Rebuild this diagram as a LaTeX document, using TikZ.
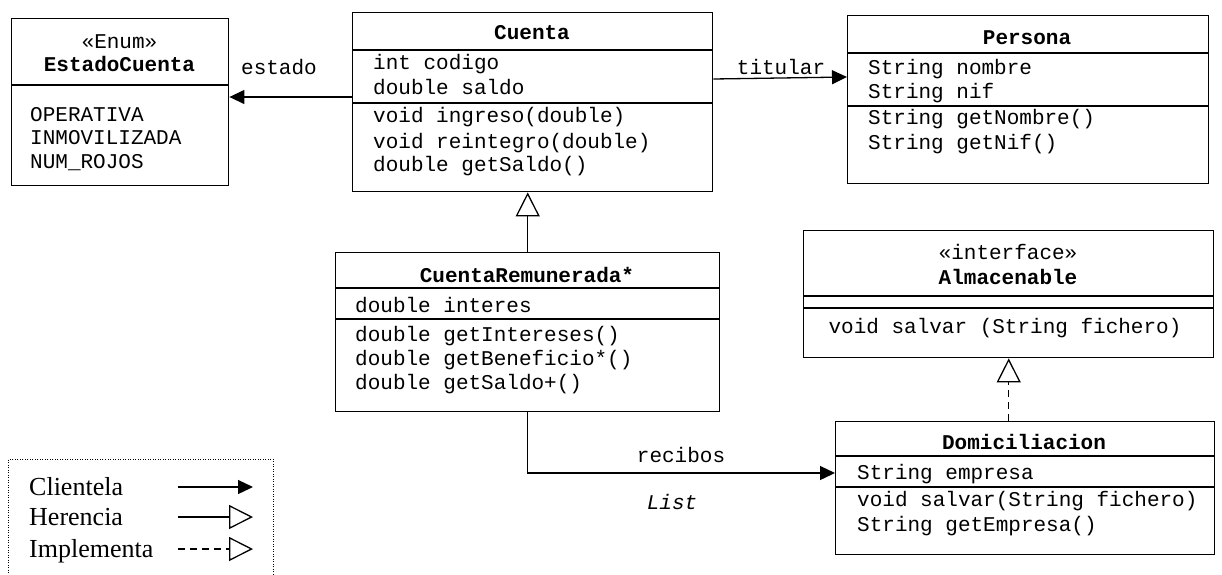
\documentclass[tikz,border=0pt]{standalone}
\usepackage{fontspec}
\setmainfont{Liberation Serif}
\setmonofont{Liberation Mono}
\usetikzlibrary{arrows.meta}
\tikzset{font=\ttfamily\fontsize{21}{25}\selectfont}
\tikzset{every node/.append style={inner sep=0pt}}
\tikzset{classbox/.style={draw, line width=1.4pt, anchor=north west}}
\tikzset{divider/.style={line width=1.4pt}}
\tikzset{member/.style={anchor=base west}}
\tikzset{classname/.style={anchor=base, font=\ttfamily\bfseries\fontsize{21}{25}\selectfont}}
\tikzset{clientela/.style={line width=1.3pt, -{Triangle[length=15pt,width=14pt]}}}
\tikzset{herencia/.style={line width=1.3pt, -{Triangle[open,length=24pt,width=24pt]}}}
\tikzset{implementa/.style={herencia, dash pattern=on 7pt off 5pt}}
\tikzset{legendtext/.style={anchor=base west, font=\rmfamily\fontsize{26}{30}\selectfont}}

\begin{document}
\begin{tikzpicture}[x=1pt, y=-1pt]
  \useasboundingbox (0,0) rectangle (1222,574);

  % class boxes
  \node[classbox, minimum width=217pt, minimum height=167pt] (estadocuenta) at (11,18) {};
  \node[classbox, minimum width=360pt, minimum height=179pt] (cuenta) at (352,12) {};
  \node[classbox, minimum width=361pt, minimum height=168pt] (persona) at (847,15) {};
  \node[classbox, minimum width=384pt, minimum height=159pt] (cuentarem) at (335,252) {};
  \node[classbox, minimum width=410pt, minimum height=127pt] (almacenable) at (803,230) {};
  \node[classbox, minimum width=379pt, minimum height=133pt] (domiciliacion) at (835,421) {};

  \foreach \n/\y in {estadocuenta/85, cuenta/50, cuenta/103, persona/53, persona/106,
                     cuentarem/288, cuentarem/319, almacenable/296, almacenable/308,
                     domiciliacion/456, domiciliacion/487}{
    \draw[divider] (\n.west |- 0,\y) -- (\n.east |- 0,\y);
  };

  % names
  \node[anchor=base] (enum) at (119.5,48) {«Enum»};
  \node[classname] (estadocuenta-name) at (119.5,71) {EstadoCuenta};
  \node[classname] (cuenta-name) at (532,39) {Cuenta};
  \node[classname] (persona-name) at (1027,44) {Persona};
  \node[classname] (cuentarem-name) at (527,282) {CuentaRemunerada*};
  \node[anchor=base] (interface) at (1008,259) {«interface»};
  \node[classname] (almacenable-name) at (1008,284) {Almacenable};
  \node[classname] (domiciliacion-name) at (1024,449) {Domiciliacion};

  % members
  \foreach \y/\t [count=\i] in {121/OPERATIVA, 144/INMOVILIZADA, 168/NUM\_ROJOS}
    \node[member] (estadocuenta-\i) at (30,\y) {\t};
  \foreach \y/\t [count=\i] in {69/int codigo, 94/double saldo, 122/void ingreso(double),
                                148/void reintegro(double), 171/double getSaldo()}
    \node[member] (cuenta-\i) at (373,\y) {\t};
  \foreach \y/\t [count=\i] in {74/String nombre, 98/String nif, 124/String getNombre(),
                                149/String getNif()}
    \node[member] (persona-\i) at (868,\y) {\t};
  \foreach \y/\t [count=\i] in {312/double interes, 341/double getIntereses(),
                                365/double getBeneficio*(), 389/double getSaldo+()}
    \node[member] (cuentarem-\i) at (355,\y) {\t};
  \node[anchor=base] (almacenable-1) at (1005,333) {void salvar (String fichero)};
  \foreach \y/\t [count=\i] in {479/String empresa, 506/void salvar(String fichero),
                                531/String getEmpresa()}
    \node[member] (domiciliacion-\i) at (857,\y) {\t};

  % relations
  \draw[clientela] (cuenta.west |- 0,97) -- (estadocuenta.east |- 0,97);
  \node[anchor=base] (estado) at (279,74) {estado};
  \draw[clientela] (cuenta.east |- 0,79) -- (persona.west |- 0,77);
  \node[anchor=base] (titular) at (781,74) {titular};
  \draw[herencia] (cuentarem.north) -- (cuenta.south -| cuentarem.north);
  \draw[implementa] (almacenable.south |- domiciliacion.north) -- (almacenable.south);
  \draw[clientela] (cuentarem.south) |- (domiciliacion.west |- 0,473);
  \node[anchor=base] (recibos) at (681,462) {recibos};
  \node[anchor=base, font=\ttfamily\itshape\fontsize{21}{25}\selectfont] (list) at (672,509) {List};

  % legend
  \node[draw, line width=1pt, dash pattern=on 1pt off 1.5pt, anchor=north west,
        minimum width=265pt, minimum height=130pt] (leyenda) at (8,459) {};
  \foreach \s/\t/\y [count=\i] in {clientela/Clientela/487, herencia/Herencia/517,
                                   implementa/Implementa/549}{
    \node[legendtext] (ley-\i) at (29,\y+8) {\t};
    \coordinate (ley-a\i) at (178,\y);
    \coordinate (ley-b\i) at (253,\y);
    \draw[\s] (ley-a\i) -- (ley-b\i);
  };
\end{tikzpicture}
\end{document}
